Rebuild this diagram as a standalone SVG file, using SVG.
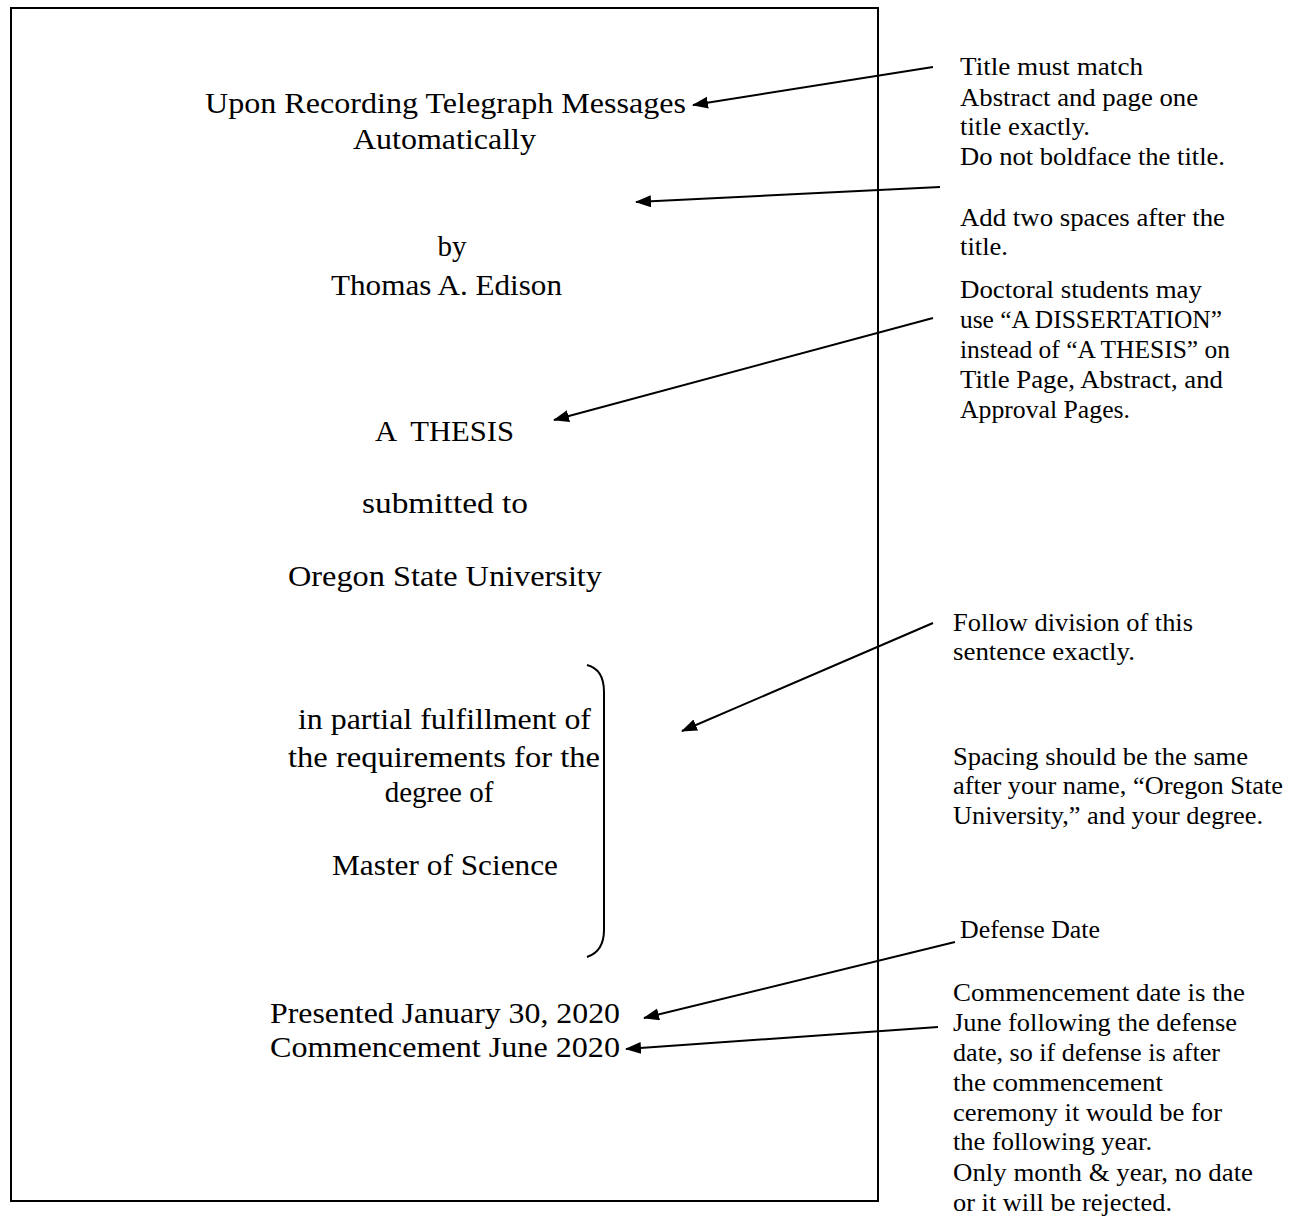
<svg xmlns="http://www.w3.org/2000/svg" width="1299" height="1219" viewBox="0 0 1299 1219">
<style>
text{font-family:"Liberation Serif","Times New Roman",serif;fill:#000;}
.pg{font-size:29px;}
.note{font-size:25px;}
.ln{stroke:#000;stroke-width:2;fill:none;}
</style>
<defs>
<marker id="ah" markerUnits="userSpaceOnUse" markerWidth="17" markerHeight="13" refX="15" refY="6" orient="auto">
<path d="M0,0 L16,6 L0,12 Z" fill="#000"/>
</marker>
</defs>
<rect width="1299" height="1219" fill="#fff"/>
<g id="page">
<rect x="11" y="8" width="867" height="1193" fill="none" stroke="#000" stroke-width="2"/>
</g>
<g id="title-page-text">
<text class="pg" x="205" y="113" textLength="481" lengthAdjust="spacingAndGlyphs">Upon Recording Telegraph Messages</text>
<text class="pg" x="353" y="149" textLength="183" lengthAdjust="spacingAndGlyphs">Automatically</text>
<text class="pg" x="452" y="256" text-anchor="middle">by</text>
<text class="pg" x="331" y="295" textLength="231" lengthAdjust="spacingAndGlyphs">Thomas A. Edison</text>
<text class="pg" x="375" y="441" textLength="139" lengthAdjust="spacingAndGlyphs" style="white-space:pre">A  THESIS</text>
<text class="pg" x="362" y="513" textLength="166" lengthAdjust="spacingAndGlyphs">submitted to</text>
<text class="pg" x="288" y="586" textLength="314" lengthAdjust="spacingAndGlyphs">Oregon State University</text>
<text class="pg" x="298" y="729" textLength="293" lengthAdjust="spacingAndGlyphs">in partial fulfillment of</text>
<text class="pg" x="288" y="767" textLength="312" lengthAdjust="spacingAndGlyphs">the requirements for the</text>
<text class="pg" x="439" y="802" text-anchor="middle">degree of</text>
<text class="pg" x="332" y="875" textLength="226" lengthAdjust="spacingAndGlyphs">Master of Science</text>
<text class="pg" x="270" y="1023" textLength="350" lengthAdjust="spacingAndGlyphs">Presented January 30, 2020</text>
<text class="pg" x="270" y="1057" textLength="350" lengthAdjust="spacingAndGlyphs">Commencement June 2020</text>
</g>
<g id="bracket">
<path class="ln" d="M587,665 C599,668 604,678 604,692 L604,930 C604,944 599,953 587,957"/>
</g>
<g id="note-title">
<text class="note" x="960" y="75" textLength="183" lengthAdjust="spacingAndGlyphs">Title must match</text>
<text class="note" x="960" y="106" textLength="238" lengthAdjust="spacingAndGlyphs">Abstract and page one</text>
<text class="note" x="960" y="135" textLength="130" lengthAdjust="spacingAndGlyphs">title exactly.</text>
<text class="note" x="960" y="165" textLength="265" lengthAdjust="spacingAndGlyphs">Do not boldface the title.</text>
</g>
<g id="note-spaces">
<text class="note" x="960" y="226" textLength="265" lengthAdjust="spacingAndGlyphs">Add two spaces after the</text>
<text class="note" x="960" y="255" textLength="48" lengthAdjust="spacingAndGlyphs">title.</text>
</g>
<g id="note-doctoral">
<text class="note" x="960" y="298" textLength="242" lengthAdjust="spacingAndGlyphs">Doctoral students may</text>
<text class="note" x="960" y="328" textLength="262" lengthAdjust="spacingAndGlyphs">use “A DISSERTATION”</text>
<text class="note" x="960" y="358" textLength="270" lengthAdjust="spacingAndGlyphs">instead of “A THESIS” on</text>
<text class="note" x="960" y="388" textLength="263" lengthAdjust="spacingAndGlyphs">Title Page, Abstract, and</text>
<text class="note" x="960" y="418" textLength="170" lengthAdjust="spacingAndGlyphs">Approval Pages.</text>
</g>
<g id="note-division">
<text class="note" x="953" y="631" textLength="240" lengthAdjust="spacingAndGlyphs">Follow division of this</text>
<text class="note" x="953" y="660" textLength="182" lengthAdjust="spacingAndGlyphs">sentence exactly.</text>
</g>
<g id="note-spacing">
<text class="note" x="953" y="765" textLength="295" lengthAdjust="spacingAndGlyphs">Spacing should be the same</text>
<text class="note" x="953" y="794" textLength="330" lengthAdjust="spacingAndGlyphs">after your name, “Oregon State</text>
<text class="note" x="953" y="824" textLength="310" lengthAdjust="spacingAndGlyphs">University,” and your degree.</text>
</g>
<g id="note-defense">
<text class="note" x="960" y="938" textLength="140" lengthAdjust="spacingAndGlyphs">Defense Date</text>
</g>
<g id="note-commencement">
<text class="note" x="953" y="1001" textLength="292" lengthAdjust="spacingAndGlyphs">Commencement date is the</text>
<text class="note" x="953" y="1031" textLength="284" lengthAdjust="spacingAndGlyphs">June following the defense</text>
<text class="note" x="953" y="1061" textLength="267" lengthAdjust="spacingAndGlyphs">date, so if defense is after</text>
<text class="note" x="953" y="1091" textLength="210" lengthAdjust="spacingAndGlyphs">the commencement</text>
<text class="note" x="953" y="1121" textLength="269" lengthAdjust="spacingAndGlyphs">ceremony it would be for</text>
<text class="note" x="953" y="1150" textLength="199" lengthAdjust="spacingAndGlyphs">the following year.</text>
<text class="note" x="953" y="1181" textLength="300" lengthAdjust="spacingAndGlyphs">Only month &amp; year, no date</text>
<text class="note" x="953" y="1211" textLength="219" lengthAdjust="spacingAndGlyphs">or it will be rejected.</text>
</g>
<g id="connectors">
<line class="ln" x1="933" y1="67" x2="693" y2="105" marker-end="url(#ah)"/>
<line class="ln" x1="940" y1="187" x2="636" y2="202" marker-end="url(#ah)"/>
<line class="ln" x1="933" y1="318" x2="554" y2="420" marker-end="url(#ah)"/>
<line class="ln" x1="933" y1="623" x2="682" y2="731" marker-end="url(#ah)"/>
<line class="ln" x1="955" y1="942" x2="644" y2="1018" marker-end="url(#ah)"/>
<line class="ln" x1="938" y1="1027" x2="626" y2="1049" marker-end="url(#ah)"/>
</g>
</svg>
